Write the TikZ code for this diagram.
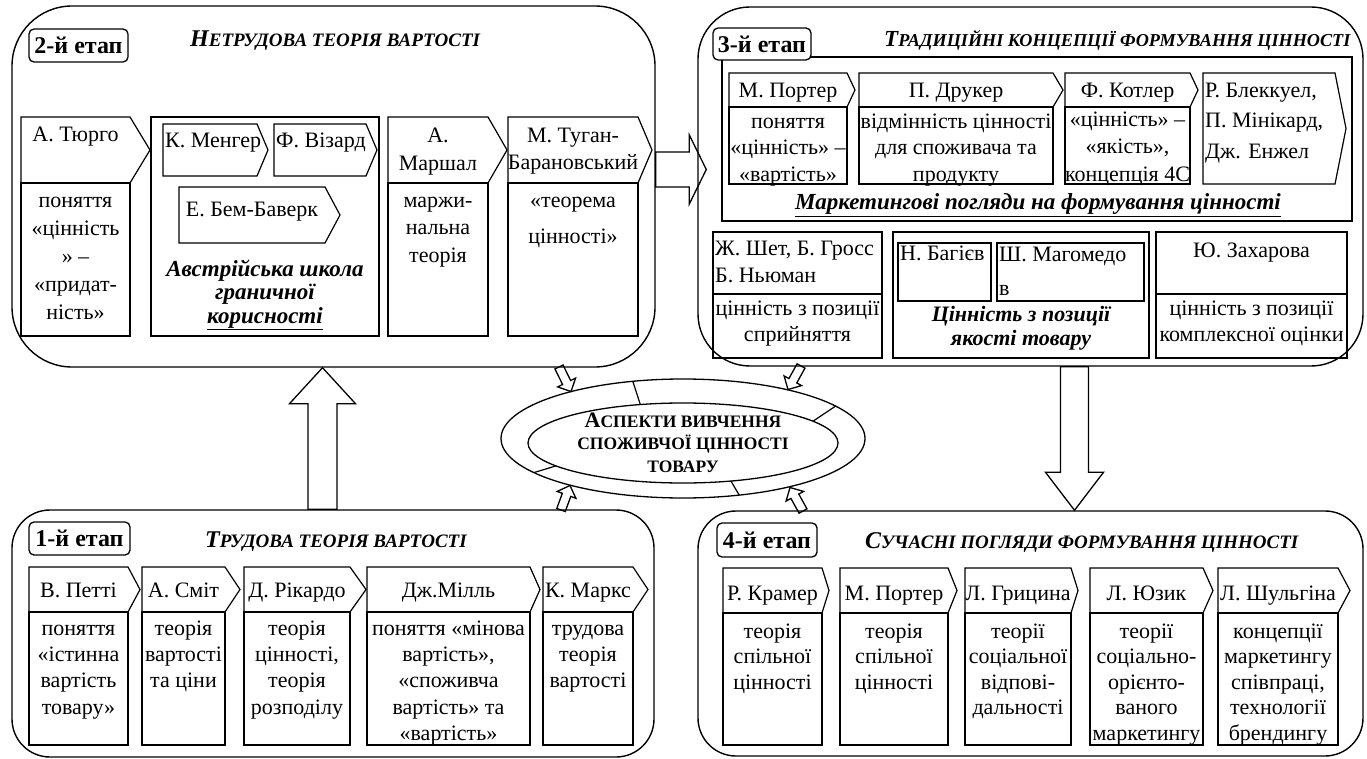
\documentclass[tikz,border=0pt]{standalone}
\usepackage{fontspec}
\setmainfont{Liberation Serif}
\usetikzlibrary{calc,shapes.geometric}

% title in faked small capitals: large initial, smaller capitals after it
\newcommand\fakesc[2]{{\fontsize{24}{26}\selectfont #1}{\fontsize{19}{26}\selectfont #2}}
\newcommand\fakescn[2]{{\fontsize{23}{26}\selectfont #1}{\fontsize{18.2}{26}\selectfont #2}}

% multi-line text whose first baseline sits at #4, with leading #5
\newcommand\txtblock[6][]{\node[bodytext=#5,#1] (#2) at (#3,{#4-0.7*#5}) {\strut #6};}

% outlined block arrow from #1 to #2: shaft half-width, head half-width, head length
\newcommand\blockarr[5]{%
  \coordinate (ba-h) at ($(#2)!#5!(#1)$);
  \draw[barrow] ($(#1)!#3!90:(#2)$) -- ($(ba-h)!#3!90:(#2)$) -- ($(ba-h)!#4!90:(#2)$)
    -- (#2) -- ($(ba-h)!#4!-90:(#2)$) -- ($(ba-h)!#3!-90:(#2)$) -- ($(#1)!#3!-90:(#2)$) -- cycle;
}

\tikzset{
  panel/.style={draw, line width=1.4pt, rounded corners=#1, inner sep=0pt},
  boxline/.style={draw, line width=1.2pt},
  hdtext/.style={inner sep=0pt, anchor=base, font=\fontsize{22}{26}\selectfont},
  bodytext/.style={inner sep=0pt, anchor=north, align=center, font=\fontsize{22}{#1}\selectfont},
  stage/.style={draw, fill=white, line width=1.3pt, rounded corners=5pt, inner sep=0pt,
    font=\bfseries\fontsize{24}{28}\selectfont},
  ttl/.style={inner sep=0pt, anchor=base west, font=\bfseries\itshape},
  barrow/.style={draw, line width=1.3pt, line join=miter},
  ringline/.style={draw, line width=1.2pt},
}

\begin{document}
\begin{tikzpicture}[x=1pt, y=-1pt]
\useasboundingbox (0,0) rectangle (1367,759);
\fill[white] (0,0) rectangle (1367,759);

% ---------------- stage panels ----------------
\node[panel=60pt, minimum width=643pt, minimum height=361pt] (p2) at (333.5,186.5) {};
\node[panel=52pt, minimum width=665pt, minimum height=359pt] (p3) at (1030.5,186.5) {};
\node[panel=38pt, minimum width=642pt, minimum height=247pt] (p1) at (333,633.5) {};
\node[panel=38pt, minimum width=665pt, minimum height=245pt] (p4) at (1030.5,633.5) {};

% ---------------- stage 2 ----------------
\node[stage, minimum width=99pt, minimum height=33pt] (s2) at (78.5,45.5) {2-й етап};
\node[ttl] (t2) at (190,47) {\fakesc{Н}{ЕТРУДОВА ТЕОРІЯ ВАРТОСТІ}};

\draw[boxline] (21,117) -- (130,117) -- (150,150) -- (130,183) -- (21,183) -- cycle;
\draw[boxline] (21,183) rectangle (130,336);
\node[hdtext] (turgot) at (75.5,142) {А. Тюрго};
\txtblock{turgot-b}{75.5}{207}{28}{поняття\\«цінність\\» –\\«придат-\\ність»}

\draw[boxline] (151,117) rectangle (379,336);
\draw[boxline] (163,124) -- (257,124) -- (268,150) -- (257,176) -- (163,176) -- cycle;
\node[hdtext, anchor=base west] (menger) at (165,148) {К. Менгер};
\draw[boxline] (274,124) -- (366,124) -- (377,150) -- (366,176) -- (274,176) -- cycle;
\node[hdtext, anchor=base west] (wieser) at (276,148) {Ф. Візард};
\draw[boxline] (179,187) -- (325,187) -- (340,215) -- (325,243) -- (179,243) -- cycle;
\node[hdtext] (bawerk) at (252,217) {Е. Бем-Баверк};
\txtblock[font=\bfseries\itshape\fontsize{23}{23.5}\selectfont]{austria}{265}{276}{23.5}{Австрійська школа\\граничної\\\underline{корисності}}

\draw[boxline] (388,117) -- (488,117) -- (507,150) -- (488,183) -- (388,183) -- cycle;
\draw[boxline] (388,183) rectangle (488,336);
\txtblock{marshall}{438}{142}{28}{А.\\Маршал}
\txtblock{marshall-b}{438}{207}{27.5}{маржи-\\нальна\\теорія}

\draw[boxline] (508,117) -- (638,117) -- (652,150) -- (638,183) -- (508,183) -- cycle;
\draw[boxline] (508,183) rectangle (638,336);
\txtblock{tugan}{573}{142}{27}{М. Туган-\\Барановський}
\txtblock{tugan-b}{573}{207}{36}{«теорема\\цінності»}

% ---------------- stage 3 ----------------
\draw[boxline] (722,57) rectangle (1352,221);
\node[stage, minimum width=98pt, minimum height=32pt] (s3) at (762,44) {3-й етап};
\node[ttl] (t3) at (884,47) {\fakescn{Т}{РАДИЦІЙНІ КОНЦЕПЦІЇ ФОРМУВАННЯ ЦІННОСТІ}};

\draw[boxline] (729,73) -- (847,73) -- (855,90) -- (847,107) -- (729,107) -- cycle;
\draw[boxline] (729,107) rectangle (847,184);
\node[hdtext] (porter1) at (788,98) {М. Портер};
\txtblock{porter1-b}{788}{128}{26.5}{поняття\\«цінність» –\\«вартість»}

\draw[boxline] (859,73) -- (1053,73) -- (1063,90) -- (1053,107) -- (859,107) -- cycle;
\draw[boxline] (859,107) rectangle (1053,184);
\node[hdtext] (drucker) at (956,98) {П. Друкер};
\txtblock{drucker-b}{956}{128}{26.5}{відмінність цінності\\для споживача та\\продукту}

\draw[boxline] (1065,73) -- (1190,73) -- (1198,90) -- (1190,107) -- (1065,107) -- cycle;
\draw[boxline] (1065,107) rectangle (1190,184);
\node[hdtext] (kotler) at (1127.5,98) {Ф. Котлер};
\txtblock{kotler-b}{1127.5}{126}{27.5}{«цінність» –\\«якість»,\\концепція 4С}

\draw[boxline] (1203,73) -- (1335,73) -- (1346,128.5) -- (1335,184) -- (1203,184) -- cycle;
\txtblock[align=left, anchor=north west]{blackwell}{1205}{97}{30.5}{Р. Блеккуел,\\П. Мінікард,\\Дж. Енжел}

\node[hdtext, font=\bfseries\itshape\fontsize{23}{26}\selectfont] (mkt) at (1038,210)
  {\underline{Маркетингові погляди на формування цінності}};

\draw[boxline] (713,232) rectangle (882,358);
\draw[boxline] (713,294) -- (882,294);
\txtblock[align=left, anchor=north west]{sheth}{715}{255}{27}{Ж. Шет, Б. Гросс\\Б. Ньюман}
\txtblock{sheth-b}{797.5}{315}{26}{цінність з позиції\\сприйняття}

\draw[boxline] (893,232) rectangle (1149,358);
\draw[boxline] (898,243) rectangle (991,301);
\node[hdtext, anchor=base west] (bagiev) at (900,261) {Н. Багієв};
\draw[boxline] (997,243) rectangle (1144,301);
\txtblock[align=left, anchor=north west]{magomedov}{999}{261}{34}{Ш. Магомедо\\в}
\txtblock[font=\bfseries\itshape\fontsize{22}{24}\selectfont]{quality}{1021}{321}{24}{Цінність з позиції\\якості товару}

\draw[boxline] (1156,232) rectangle (1347,358);
\draw[boxline] (1156,294) -- (1347,294);
\node[hdtext] (zakharova) at (1251.5,258) {Ю. Захарова};
\txtblock{zakharova-b}{1251.5}{315}{26}{цінність з позиції\\комплексної оцінки}

% ---------------- stage 1 ----------------
\node[stage, minimum width=101pt, minimum height=33pt] (s1) at (79.5,538.5) {1-й етап};
\node[ttl] (t1) at (205,547) {\fakesc{Т}{РУДОВА ТЕОРІЯ ВАРТОСТІ}};

\draw[boxline] (29,567) -- (128,567) -- (140,589.5) -- (128,612) -- (29,612) -- cycle;
\draw[boxline] (29,612) rectangle (128,745);
\node[hdtext] (petty) at (78.5,597) {В. Петті};
\txtblock{petty-b}{78.5}{635}{26.3}{поняття\\«істинна\\вартість\\товару»}

\draw[boxline] (142,567) -- (225,567) -- (240,589.5) -- (225,612) -- (142,612) -- cycle;
\draw[boxline] (142,612) rectangle (225,745);
\node[hdtext] (smith) at (183.5,597) {А. Сміт};
\txtblock{smith-b}{183.5}{635}{26.3}{теорія\\вартості\\та ціни}

\draw[boxline] (244,567) -- (350,567) -- (366,589.5) -- (350,612) -- (244,612) -- cycle;
\draw[boxline] (244,612) rectangle (350,745);
\node[hdtext] (ricardo) at (297,597) {Д. Рікардо};
\txtblock{ricardo-b}{297}{635}{26.3}{теорія\\цінності,\\теорія\\розподілу}

\draw[boxline] (367,567) -- (530,567) -- (540,589.5) -- (530,612) -- (367,612) -- cycle;
\draw[boxline] (367,612) rectangle (530,745);
\node[hdtext] (mill) at (448.5,597) {Дж.Мілль};
\txtblock{mill-b}{448.5}{635}{26.3}{поняття «мінова\\вартість»,\\«споживча\\вартість» та\\«вартість»}

\draw[boxline] (543,567) -- (633,567) -- (648,589.5) -- (633,612) -- (543,612) -- cycle;
\draw[boxline] (543,612) rectangle (633,745);
\node[hdtext] (marx) at (588,597) {К. Маркс};
\txtblock{marx-b}{588}{635}{26.3}{трудова\\теорія\\вартості}

% ---------------- stage 4 ----------------
\node[stage, minimum width=100pt, minimum height=34pt] (s4) at (767,540) {4-й етап};
\node[ttl] (t4) at (865,548) {\fakesc{С}{УЧАСНІ ПОГЛЯДИ ФОРМУВАННЯ ЦІННОСТІ}};

\draw[boxline] (723,568) -- (822,568) -- (829,590.5) -- (822,613) -- (723,613) -- cycle;
\draw[boxline] (723,613) rectangle (822,745);
\node[hdtext] (kramer) at (772.5,600) {Р. Крамер};
\txtblock{kramer-b}{772.5}{638}{25.5}{теорія\\спільної\\цінності}

\draw[boxline] (840,568) -- (948,568) -- (957,590.5) -- (948,613) -- (840,613) -- cycle;
\draw[boxline] (840,613) rectangle (948,745);
\node[hdtext] (porter2) at (894,600) {М. Портер};
\txtblock{porter2-b}{894}{638}{25.5}{теорія\\спільної\\цінності}

\draw[boxline] (965,568) -- (1071,568) -- (1078,590.5) -- (1071,613) -- (965,613) -- cycle;
\draw[boxline] (965,613) rectangle (1071,745);
\node[hdtext] (grytsyna) at (1018,600) {Л. Грицина};
\txtblock{grytsyna-b}{1018}{638}{25.5}{теорії\\соціальної\\відпові-\\дальності}

\draw[boxline] (1090,568) -- (1203,568) -- (1213,590.5) -- (1203,613) -- (1090,613) -- cycle;
\draw[boxline] (1090,613) rectangle (1203,745);
\node[hdtext] (yuzyk) at (1146.5,600) {Л. Юзик};
\txtblock{yuzyk-b}{1146.5}{638}{25.5}{теорії\\соціально-\\орієнто-\\ваного\\маркетингу}

\draw[boxline] (1218,568) -- (1338,568) -- (1350,590.5) -- (1338,613) -- (1218,613) -- cycle;
\draw[boxline] (1218,613) rectangle (1338,745);
\node[hdtext] (shulgina) at (1278,600) {Л. Шульгіна};
\txtblock{shulgina-b}{1278}{638}{25.5}{концепції\\маркетингу\\співпраці,\\технології\\брендингу}

% ---------------- central ring ----------------
\node[draw, ellipse, line width=1.3pt, minimum width=364pt, minimum height=119pt, inner sep=0pt] (ring) at (683,438.5) {};
\node[draw, ellipse, line width=1.3pt, minimum width=310pt, minimum height=80pt, inner sep=0pt] (core) at (683,443) {};
\coordinate (d1o) at (835.6,406.1); \coordinate (d1i) at (813.0,421.2);
\coordinate (d2o) at (632.8,381.3); \coordinate (d2i) at (640.3,404.5);
\coordinate (d3o) at (533.9,472.6); \coordinate (d3i) at (556.0,465.9);
\coordinate (d4o) at (739.2,495.1); \coordinate (d4i) at (730.9,481.0);
\draw[ringline] (d1o) -- (d1i) (d2o) -- (d2i) (d3o) -- (d3i) (d4o) -- (d4i);
\txtblock[font=\bfseries\fontsize{17.5}{22.5}\selectfont]{aspects}{683}{427}{22.5}{{\fontsize{22}{22.5}\selectfont А}СПЕКТИ ВИВЧЕННЯ\\СПОЖИВЧОЇ ЦІННОСТІ\\ТОВАРУ}

% ---------------- big arrows between stages ----------------
\coordinate (ua) at (322.5,0);
\coordinate (ua-from) at (p1.north -| ua);
\coordinate (ua-to) at (p2.south -| ua);
\blockarr{ua-from}{ua-to}{14.5pt}{33pt}{36pt}

\coordinate (ra) at (0,169.5);
\coordinate (ra-from) at (p2.east |- ra);
\coordinate (ra-to) at ($(p3.west |- ra)+(9,0)$);
\blockarr{ra-from}{ra-to}{17.5pt}{34.5pt}{17pt}

\coordinate (da) at (1074.5,0);
\coordinate (da-from) at (p3.south -| da);
\coordinate (da-to) at (p4.north -| da);
\blockarr{da-from}{da-to}{14pt}{29pt}{38pt}

% ---------------- small arrows into the ring ----------------
\coordinate (a1-from) at (559,367);   \coordinate (a1-to) at (571,391.5);
\coordinate (a2-from) at (801,366);   \coordinate (a2-to) at (788,389.5);
\coordinate (a3-from) at (561,510);   \coordinate (a3-to) at (570,485.5);
\coordinate (a4-from) at (803,511);   \coordinate (a4-to) at (790,487.5);
\blockarr{a1-from}{a1-to}{4.5pt}{10pt}{10pt}
\blockarr{a2-from}{a2-to}{4.5pt}{10pt}{10pt}
\blockarr{a3-from}{a3-to}{4.5pt}{10pt}{10pt}
\blockarr{a4-from}{a4-to}{4.5pt}{10pt}{10pt}
\end{tikzpicture}
\end{document}
